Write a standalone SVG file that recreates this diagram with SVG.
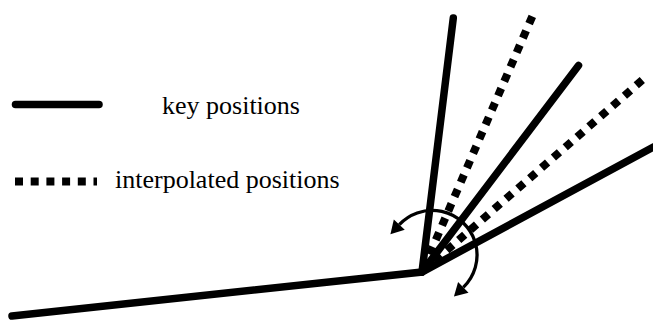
<svg xmlns="http://www.w3.org/2000/svg" width="653" height="320" viewBox="0 0 653 320">
  <style>
    .key { fill: none; stroke: #000; stroke-width: 7.5; stroke-linecap: round; stroke-linejoin: miter; }
    .interp { fill: none; stroke: #000; stroke-width: 8; stroke-dasharray: 8 7.7; }
    .rot { fill: none; stroke: #000; stroke-width: 3.3; marker-end: url(#head); }
    .label { font-family: "Liberation Serif", "DejaVu Serif", "Times New Roman", serif; font-size: 26px; fill: #000; }
  </style>
  <defs>
    <marker id="head" markerUnits="userSpaceOnUse" markerWidth="14" markerHeight="16" refX="0" refY="7.5" orient="auto" overflow="visible">
      <path d="M0,0 L13,7.5 L0,15 z" fill="#000"/>
    </marker>
  </defs>
  <rect width="653" height="320" fill="#fff"/>
  <g id="legend-key">
    <line class="key" x1="15.5" y1="104.5" x2="99" y2="104.5"/>
    <text class="label" x="162" y="113.5">key positions</text>
  </g>
  <g id="legend-interpolated">
    <line class="interp" x1="15" y1="181.5" x2="97" y2="181.5"/>
    <text class="label" x="115" y="187.5">interpolated positions</text>
  </g>
  <g id="connectors">
    <path class="rot" d="M474.8,241.1 A45,45 0 0 0 399.3,224.7"/>
    <path class="rot" d="M475.7,244.1 A45,45 0 0 1 463.3,287.4"/>
    <path class="interp" d="M532.3,16.3 L422,272"/>
    <path class="interp" d="M642.3,80.1 L422,272"/>
    <polyline class="key" points="12,316 422,272 670,138"/>
    <line class="key" x1="422" y1="272" x2="453.3" y2="18"/>
    <line class="key" x1="422" y1="272" x2="578.5" y2="65.5"/>
  </g>
</svg>
